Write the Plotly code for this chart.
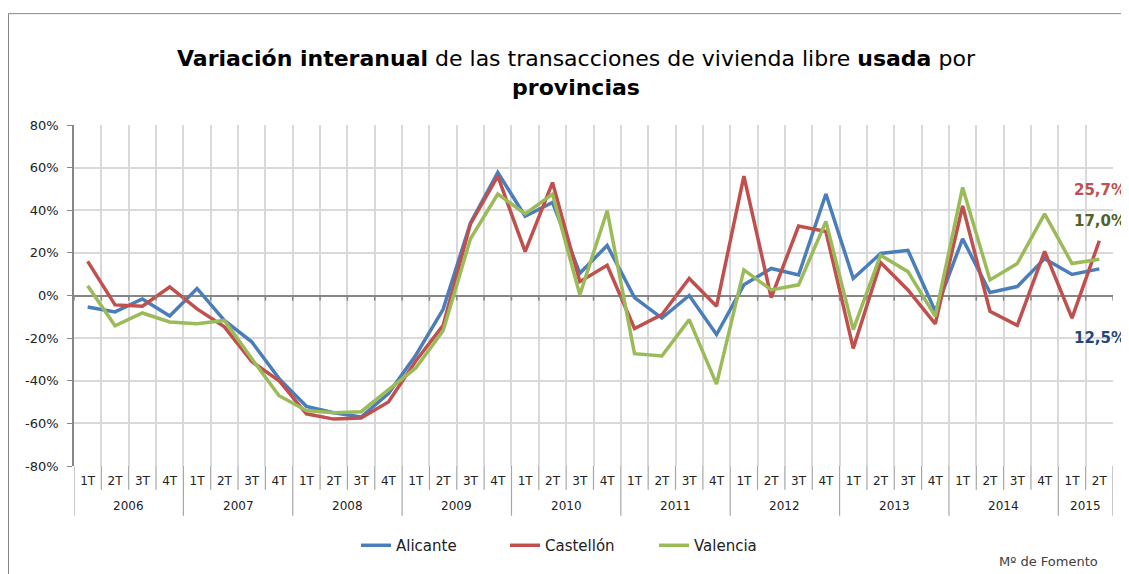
import plotly.graph_objects as go

years = ["2006"] * 4 + ["2007"] * 4 + ["2008"] * 4 + ["2009"] * 4 + ["2010"] * 4 + \
        ["2011"] * 4 + ["2012"] * 4 + ["2013"] * 4 + ["2014"] * 4 + ["2015"] * 2
quarters = ["1T", "2T", "3T", "4T"] * 9 + ["1T", "2T"]

alicante = [-5.4, -7.7, -1.6, -9.6, 3.3, -11.7, -21.7, -39, -52, -55, -57, -46,
            -28, -6.5, 34, 57.7, 37.2, 43.7, 10.4, 23.5, -1, -10.6, 0, -18.3,
            5, 12.7, 9.6, 47.6, 8, 19.7, 21.2, -7.4, 26.6, 1.4, 4.2, 17.3, 9.9, 12.5]
castellon = [16, -4.4, -5, 4, -6.3, -14.7, -31, -40, -55.5, -58, -57.5, -50,
             -30.7, -14, 33.6, 56, 20.6, 53, 6.5, 14.2, -15.5, -9, 8, -5,
             56, -1, 32.6, 30, -24.8, 15.5, 2.6, -13.3, 42, -7.4, -14, 20.7, -10.6, 25.7]
valencia = [4.6, -14.2, -8.2, -12.4, -13.3, -11.7, -29.6, -47, -54, -55, -54.5, -44.5,
            -34, -16.5, 26.6, 47.6, 38.3, 47.6, 0.3, 39.8, -27.3, -28.4, -11.3, -41.6,
            12, 2.6, 5, 34.7, -16, 18.9, 11.2, -9.8, 50.7, 7.3, 15, 38.3, 15, 17.0]

names = ["Alicante", "Castellón", "Valencia"]
values = [alicante, castellon, valencia]
colors = ["#4A7EBB", "#C0504D", "#9BBB59"]
label_colors = ["#1F497D", "#C0504D", "#4F6228"]

ytick_vals = [-80, -60, -40, -20, 0, 20, 40, 60, 80]
ytick_text = [f"{v}%" for v in ytick_vals]

FONT = "DejaVu Sans"
AXIS_GREY = "#868686"
DIV_GREY = "#A6A6A6"

# figure geometry (page body has an 8px margin)
W, H = 1121, 566
L, R, T, B = 66, 16, 117, 106
PW, PH = W - L - R, H - T - B


def px_x(px):
    return (px - L) / PW


def px_y(py):
    return (H - B - py) / PH


keys = [f"{y}-{q}" for y, q in zip(years, quarters)]
n = len(keys)

fig = go.Figure()
for name, vals, color in zip(names, values, colors):
    fig.add_trace(go.Scatter(x=keys, y=vals, name=name, mode="lines",
                             line=dict(color=color, width=3.5)))

# end labels
label_pos = {"Alicante": 331, "Castellón": 182, "Valencia": 214}
for name, vals, lc in zip(names, values, label_colors):
    fig.add_annotation(xref="paper", yref="paper", x=px_x(1120), y=px_y(label_pos[name]),
                       text=f"<b>{vals[-1]:.1f}%</b>".replace(".", ","),
                       showarrow=False, font=dict(family=FONT, size=15, color=lc),
                       xanchor="right", yanchor="middle")

# year labels and separators
unique_years = list(dict.fromkeys(years))
for yr in unique_years:
    idx = [i for i, y in enumerate(years) if y == yr]
    fig.add_annotation(xref="x", yref="paper", x=sum(idx) / len(idx), y=px_y(500),
                       text=yr, showarrow=False, xanchor="center", yanchor="middle",
                       font=dict(family=FONT, size=12, color="#222222"))

for i in range(n + 1):
    is_year = i == 0 or i == n or years[i] != years[i - 1]
    bottom = px_y(510) if is_year else px_y(484)
    fig.add_shape(type="line", xref="x", yref="paper", x0=i - 0.5, x1=i - 0.5,
                  y0=0, y1=bottom, line=dict(color=DIV_GREY, width=1.2))
    fig.add_shape(type="line", xref="x", yref="y", x0=i - 0.5, x1=i - 0.5,
                  y0=0, y1=-2.4, line=dict(color=AXIS_GREY, width=1.5))

fig.add_annotation(xref="paper", yref="paper", x=px_x(1092), y=px_y(556),
                   text="Mº de Fomento", showarrow=False, xanchor="right", yanchor="middle",
                   font=dict(family=FONT, size=13, color="#404040"))

fig.add_shape(type="rect", xref="paper", yref="paper",
              x0=px_x(0.5), x1=px_x(1120), y0=px_y(590), y1=px_y(5),
              line=dict(color=AXIS_GREY, width=1), fillcolor="rgba(0,0,0,0)", layer="below")

fig.update_layout(
    width=W, height=H,
    margin=dict(l=L, r=R, t=T, b=B),
    paper_bgcolor="white", plot_bgcolor="white",
    font=dict(family=FONT, color="#222222"),
    title=dict(text="<b>Variación interanual</b> de las transacciones de vivienda libre <b>usada</b> por<br><b>provincias</b>",
               x=568 / W, xanchor="center", xref="container",
               y=1 - 58 / H, yanchor="middle", yref="container",
               font=dict(family=FONT, size=22, color="black")),
    showlegend=True,
    legend=dict(orientation="h", xref="paper", yref="paper", x=px_x(348), xanchor="left",
                y=px_y(540), yanchor="middle", entrywidth=104, entrywidthmode="pixels",
                font=dict(family=FONT, size=15, color="#222222")),
    xaxis=dict(type="category", tickmode="array", tickvals=keys, ticktext=quarters,
               showgrid=True, gridcolor="#D9D9D9", gridwidth=1.5, tickson="boundaries",
               ticks="", ticklabelstandoff=6, range=[-0.5, n - 0.5],
               tickfont=dict(family=FONT, size=12, color="#222222"), showline=False),
    yaxis=dict(range=[-80, 80], tickvals=ytick_vals, ticktext=ytick_text,
               showgrid=True, gridcolor="#D9D9D9", gridwidth=1.5,
               zeroline=True, zerolinecolor=AXIS_GREY, zerolinewidth=1.5,
               showline=True, linecolor=AXIS_GREY, linewidth=1.5,
               ticks="outside", ticklen=5, tickcolor=AXIS_GREY, ticklabelstandoff=6,
               tickfont=dict(family=FONT, size=13, color="#222222")),
)

fig.write_html("out.html")
